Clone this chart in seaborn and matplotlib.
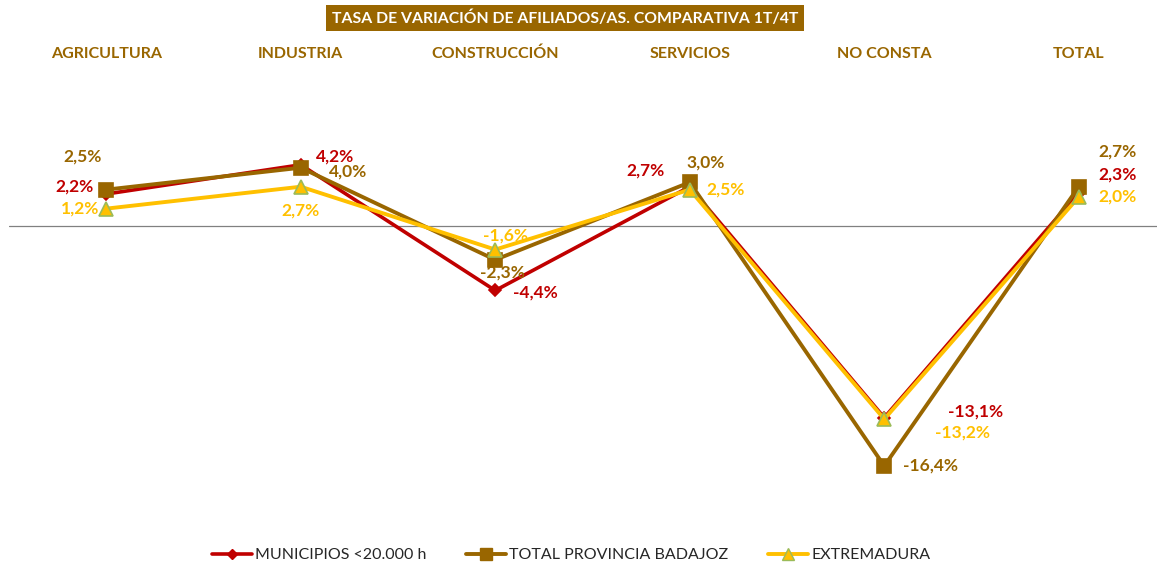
import pandas as pd
import matplotlib.pyplot as plt
import seaborn as sns
from matplotlib.lines import Line2D
from matplotlib.transforms import blended_transform_factory

categories = ['AGRICULTURA', 'INDUSTRIA', 'CONSTRUCCIÓN', 'SERVICIOS', 'NO CONSTA', 'TOTAL']
municipios = [2.2, 4.2, -4.4, 2.7, -13.1, 2.3]
provincia = [2.5, 4.0, -2.3, 3.0, -16.4, 2.7]
extremadura = [1.2, 2.7, -1.6, 2.5, -13.2, 2.0]
series_names = ['MUNICIPIOS <20.000 h', 'TOTAL PROVINCIA BADAJOZ', 'EXTREMADURA']

RED = '#C00000'
BROWN = '#996600'
YELLOW = '#FFC000'
GREEN_EDGE = '#9BBB59'

# label offsets in pixels (dx, dy) per series per category
offsets = {
    'MUNICIPIOS <20.000 h': [(-32, 8), (34, 8), (40, -2), (-44, 16), (91, 6), (39, 18)],
    'TOTAL PROVINCIA BADAJOZ': [(-24, 33), (47, -4), (7, -13), (16, 20), (46, 0), (39, 35)],
    'EXTREMADURA': [(-26, 0), (0, -24), (10, 14), (36, 0), (78, -13), (39, 0)],
}

df = pd.DataFrame({
    'cat': categories * 3,
    'val': municipios + provincia + extremadura,
    'serie': [series_names[0]] * 6 + [series_names[1]] * 6 + [series_names[2]] * 6,
})

sns.set_theme(style='white')
plt.rcParams['font.family'] = ['Lato', 'DejaVu Sans']

fig = plt.figure(figsize=(11.57, 5.67), dpi=100)
ax = fig.add_axes([9 / 1157, 1 - 520 / 567, 1167 / 1157, 440 / 567])

styles = {
    series_names[0]: dict(color=RED, marker='D', ms=6, mec=RED, mfc=RED, lw=2.6),
    series_names[1]: dict(color=BROWN, marker='s', ms=10, mec=BROWN, mfc=BROWN, lw=2.8),
    series_names[2]: dict(color=YELLOW, marker='^', ms=10, mec=GREEN_EDGE, mfc=YELLOW, lw=2.8),
}

ax.axhline(0, color='#808080', lw=0.9, zorder=1)

for name in series_names:
    sub = df[df['serie'] == name]
    st = styles[name]
    sns.lineplot(data=sub, x='cat', y='val', ax=ax, color=st['color'], lw=st['lw'],
                 marker=st['marker'], markersize=st['ms'], markeredgecolor=st['mec'],
                 markerfacecolor=st['mfc'], markeredgewidth=1.2, sort=False, zorder=3)
    for i, v in enumerate(sub['val']):
        dx, dy = offsets[name][i]
        ax.annotate(f'{v:.1f}%'.replace('.', ','), (i, v), xytext=(dx, dy),
                    textcoords='offset pixels', ha='center', va='center',
                    color=st['color'], fontsize=12.5, fontweight='bold', zorder=5)

ax.set_xlim(-0.5, 5.5)
ax.set_ylim(-20.1, 10)
ax.set_xlabel('')
ax.set_ylabel('')
ax.set_xticks([])
ax.set_yticks([])
for s in ax.spines.values():
    s.set_visible(False)
ax.set_facecolor('none')

trans = blended_transform_factory(ax.transData, fig.transFigure)
for i, c in enumerate(categories):
    ax.text(i, 1 - 54 / 567, c, transform=trans, ha='center', va='center',
            color=BROWN, fontsize=11.5, fontweight='bold')

fig.text(565 / 1157, 1 - 18 / 567, 'TASA DE VARIACIÓN DE AFILIADOS/AS. COMPARATIVA 1T/4T',
         ha='center', va='center', color='white', fontsize=11.3, fontweight='bold',
         bbox=dict(boxstyle='square,pad=0.35', fc=BROWN, ec='none'))

handles = [Line2D([], [], color=styles[n]['color'], lw=styles[n]['lw'], marker=styles[n]['marker'],
                  ms=styles[n]['ms'] * 0.85, mec=styles[n]['mec'], mfc=styles[n]['mfc'])
           for n in series_names]
fig.legend(handles, series_names, loc='center', bbox_to_anchor=(571 / 1157, 1 - 555 / 567),
           ncol=3, frameon=False, fontsize=11.5, handlelength=2.5, handletextpad=0.2,
           columnspacing=2.5)

fig.savefig('out.png', dpi=100)
